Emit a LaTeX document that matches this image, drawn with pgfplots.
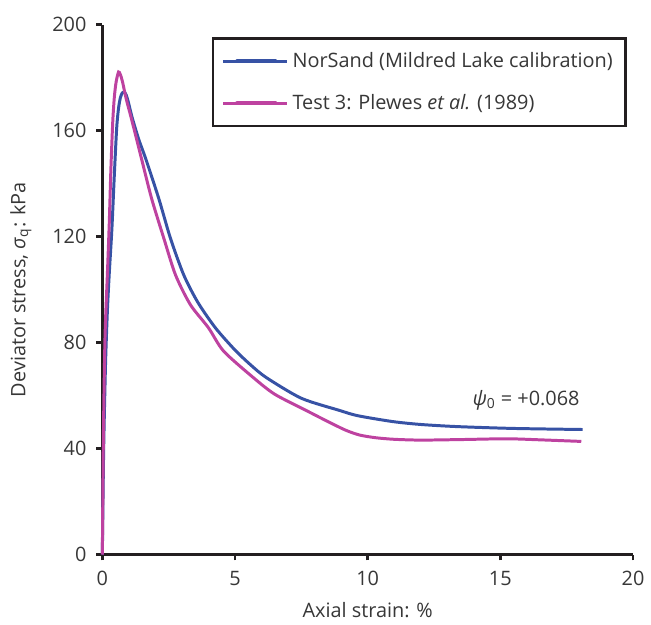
\documentclass[border=0pt]{standalone}
\usepackage{pgfplots}
\pgfplotsset{compat=1.18}
\usepackage{fontspec}
\setmainfont{Open Sans}
\definecolor{nsblue}{RGB}{55,82,165}
\definecolor{tmag}{RGB}{190,66,160}
\definecolor{txt}{RGB}{55,55,55}
\definecolor{axc}{RGB}{35,31,32}
\newcommand{\fs}{\fontsize{10}{12}\selectfont}
\begin{document}
\fs
\begin{tikzpicture}
\begin{axis}[
  scale only axis,
  width=267pt, height=266.5pt,
  xmin=0, xmax=20, ymin=0, ymax=200,
  xtick={0,5,10,15,20}, ytick={0,40,80,120,160,200},
  axis lines=left,
  axis line style={axc, line width=1.4pt, -},
  tick style={axc, line width=1.4pt},
  tick align=outside,
  major tick length=3pt,
  /pgf/number format/assume math mode=true,
  ticklabel style={font=\fs, text=txt},
  xticklabel style={yshift=-2pt},
  yticklabel style={xshift=-1.5pt},
  every axis x label/.style={at={(rel axis cs:0.5,0)}, anchor=center, yshift=-28pt},
  every axis y label/.style={at={(rel axis cs:0,0.5)}, anchor=center, rotate=90, yshift=41pt},
  label style={font=\fs, text=txt},
  xlabel={Axial strain: \%},
  ylabel={Deviator stress, \textit{σ}\textsubscript{q}: kPa},
  legend style={at={(rel axis cs:0.9888,0.9775)}, anchor=north east,
    draw=axc, line width=1.4pt, font=\fs, text=txt,
    inner xsep=4.5pt, inner ysep=5pt, row sep=8pt},
  legend cell align=left,
  legend image code/.code={\draw[line width=2.2pt, line cap=round] (0pt,0pt) -- (19pt,0pt); \path (-7pt,0pt) -- (25pt,0pt);},
  clip=false,
]
\addplot[nsblue, line width=1.5pt, smooth, tension=0.45] coordinates {
(0,0) (0.05,40) (0.12,72) (0.19,92) (0.26,106) (0.36,123) (0.45,143) (0.54,161)
(0.61,168.5) (0.68,172.5) (0.75,174.3) (0.82,174.7) (0.9,173.5) (0.98,170.8) (1.06,167.5) (1.14,164.4)
(1.38,156.5) (1.64,149.3) (2.13,134.3) (2.57,119.3)
(3.07,105.5) (3.6,95.2) (4.26,85.6) (5,77.2) (5.6,71.5) (6.18,66.8) (7.5,59) (8.94,54.4) (9.63,52.4) (10.94,50.2)
(12,49.1) (13.37,48.3) (15.5,47.6) (18.1,47.2)
};
\addlegendentry{NorSand (Mildred Lake calibration)}
\addplot[tmag, line width=1.5pt, smooth, tension=0.45] coordinates {
(0,0) (0.04,45) (0.1,82) (0.19,106) (0.26,125) (0.32,145) (0.39,163) (0.45,172.5) (0.52,178.5)
(0.61,182.2) (0.68,181.2) (0.76,178.5) (0.9,172) (1.10,164.4) (1.48,149.3) (1.86,134.3) (2.32,119.3)
(2.76,105.5) (3.32,94.3) (4.0,85.6) (4.57,76.8) (5.69,66.8) (6.5,60.5) (7.68,54.4)
(8.5,50.2) (9.18,46.9) (9.7,45.1) (10.3,44.1) (11,43.5) (12,43.2) (13.5,43.4) (15.24,43.7) (16.5,43.3) (18.05,42.7)
};
\addlegendentry{Test 3: Plewes \textit{et al.} (1989)}
\node[text=txt, font=\fs, anchor=east] at (axis cs:18.25,58.2) {\textit{ψ}\textsubscript{0} = +0.068};
\end{axis}
\useasboundingbox (-51.5pt,-32.5pt) rectangle (274pt,279pt);
\end{tikzpicture}
\end{document}
